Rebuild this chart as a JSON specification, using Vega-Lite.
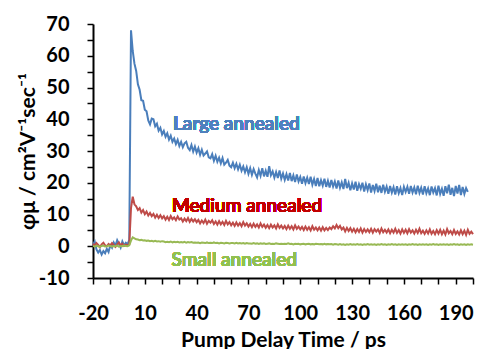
{
  "$schema": "https://vega.github.io/schema/vega-lite/v6.json",
  "autosize": "none",
  "width": 380,
  "height": 254,
  "padding": {"left": 93, "top": 24, "right": 6, "bottom": 71},
  "datasets": {
    "curves": [
      {"t":-20,"L":0.5,"M":0.8,"S":0.1},{"t":-19,"L":1.5,"M":0.2,"S":-0.1},{"t":-18,"L":-1.0,"M":1.0,"S":0.2},{"t":-17,"L":-2.0,"M":0.4,"S":0.0},{"t":-16,"L":-1.2,"M":-0.3,"S":-0.2},{"t":-15,"L":-2.6,"M":0.6,"S":0.1},{"t":-14,"L":-1.5,"M":1.1,"S":0.2},{"t":-13,"L":-2.2,"M":0.3,"S":-0.1},{"t":-12,"L":-0.8,"M":0.0,"S":0.0},{"t":-11,"L":-1.8,"M":0.7,"S":0.2},
      {"t":-10,"L":0.3,"M":0.2,"S":0.1},{"t":-9,"L":-0.5,"M":1.0,"S":-0.1},{"t":-8,"L":1.2,"M":0.4,"S":0.1},{"t":-7,"L":0.2,"M":-0.2,"S":0.0},{"t":-6,"L":1.9,"M":0.6,"S":0.2},{"t":-5,"L":0.8,"M":1.2,"S":-0.1},{"t":-4,"L":-0.4,"M":0.3,"S":0.1},{"t":-3,"L":1.5,"M":0.8,"S":0.0},{"t":-2,"L":0.3,"M":0.1,"S":0.2},{"t":-1,"L":1.1,"M":0.5,"S":0.1},
      {"t":0,"L":0.6,"M":0.3,"S":0.0},{"t":1,"L":2.0,"M":0.6,"S":0.3},{"t":2,"L":68.0,"M":12.0,"S":1.8},{"t":3,"L":61.5,"M":15.6,"S":2.8},{"t":4,"L":57.5,"M":13.2,"S":2.5},{"t":5,"L":55.2,"M":12.6,"S":2.2},{"t":6,"L":51.0,"M":11.4,"S":2.1},{"t":7,"L":49.3,"M":12.0,"S":1.9},{"t":8,"L":46.0,"M":10.6,"S":2.0},{"t":9,"L":45.8,"M":11.4,"S":1.8},
      {"t":10,"L":43.0,"M":10.1,"S":1.9},{"t":11,"L":42.5,"M":10.9,"S":1.7},{"t":12,"L":39.6,"M":9.7,"S":1.8},{"t":13,"L":38.4,"M":10.5,"S":1.6},{"t":14,"L":40.2,"M":9.5,"S":1.7},{"t":15,"L":40.0,"M":10.2,"S":1.5},{"t":16,"L":37.8,"M":9.0,"S":1.7},{"t":17,"L":38.6,"M":9.9,"S":1.5},{"t":18,"L":36.4,"M":8.9,"S":1.6},{"t":19,"L":37.3,"M":9.8,"S":1.4},
      {"t":20,"L":35.2,"M":8.8,"S":1.6},{"t":21,"L":36.3,"M":9.5,"S":1.5},{"t":22,"L":34.5,"M":8.4,"S":1.3},{"t":23,"L":35.6,"M":9.3,"S":1.4},{"t":24,"L":33.6,"M":8.3,"S":1.3},{"t":25,"L":34.8,"M":9.5,"S":1.5},{"t":26,"L":32.9,"M":8.5,"S":1.2},{"t":27,"L":33.9,"M":9.1,"S":1.4},{"t":28,"L":32.2,"M":8.2,"S":1.3},{"t":29,"L":33.5,"M":9.4,"S":1.4},
      {"t":30,"L":31.6,"M":8.4,"S":1.2},{"t":31,"L":32.9,"M":8.8,"S":1.3},{"t":32,"L":31.2,"M":7.8,"S":1.2},{"t":33,"L":32.4,"M":8.7,"S":1.4},{"t":34,"L":32.9,"M":7.9,"S":1.1},{"t":35,"L":31.0,"M":8.9,"S":1.3},{"t":36,"L":30.3,"M":7.7,"S":1.2},{"t":37,"L":31.9,"M":8.6,"S":1.3},{"t":38,"L":29.8,"M":7.8,"S":1.1},{"t":39,"L":31.4,"M":8.5,"S":1.2},
      {"t":40,"L":29.5,"M":7.6,"S":1.1},{"t":41,"L":30.9,"M":8.3,"S":1.2},{"t":42,"L":28.8,"M":7.2,"S":1.0},{"t":43,"L":30.4,"M":8.1,"S":1.2},{"t":44,"L":28.6,"M":7.3,"S":1.1},{"t":45,"L":29.2,"M":8.4,"S":1.0},{"t":46,"L":29.9,"M":7.1,"S":1.2},{"t":47,"L":28.0,"M":8.0,"S":1.0},{"t":48,"L":27.7,"M":7.4,"S":1.1},{"t":49,"L":29.0,"M":8.2,"S":1.0},
      {"t":50,"L":26.9,"M":7.0,"S":1.2},{"t":51,"L":28.5,"M":7.8,"S":1.0},{"t":52,"L":26.6,"M":6.8,"S":1.1},{"t":53,"L":27.9,"M":7.9,"S":0.9},{"t":54,"L":26.1,"M":6.9,"S":1.1},{"t":55,"L":27.8,"M":7.7,"S":1.0},{"t":56,"L":25.7,"M":6.7,"S":0.9},{"t":57,"L":26.3,"M":8.0,"S":1.1},{"t":58,"L":27.2,"M":6.9,"S":1.0},{"t":59,"L":25.4,"M":7.6,"S":0.9},
      {"t":60,"L":24.9,"M":6.6,"S":1.0},{"t":61,"L":26.3,"M":7.4,"S":1.0},{"t":62,"L":24.6,"M":6.4,"S":0.9},{"t":63,"L":26.0,"M":7.5,"S":1.1},{"t":64,"L":24.2,"M":6.5,"S":0.9},{"t":65,"L":25.7,"M":7.3,"S":1.0},{"t":66,"L":23.8,"M":6.3,"S":0.9},{"t":67,"L":25.1,"M":7.6,"S":1.0},{"t":68,"L":23.3,"M":6.5,"S":0.8},{"t":69,"L":24.9,"M":7.2,"S":1.0},
      {"t":70,"L":22.8,"M":6.2,"S":0.9},{"t":71,"L":24.6,"M":7.0,"S":0.9},{"t":72,"L":22.5,"M":6.0,"S":0.8},{"t":73,"L":24.3,"M":7.1,"S":1.0},{"t":74,"L":22.9,"M":6.1,"S":0.8},{"t":75,"L":21.7,"M":6.9,"S":0.9},{"t":76,"L":24.0,"M":5.9,"S":0.7},{"t":77,"L":22.2,"M":7.2,"S":0.9},{"t":78,"L":24.6,"M":6.1,"S":0.8},{"t":79,"L":22.0,"M":6.8,"S":0.9},
      {"t":80,"L":23.8,"M":5.8,"S":0.7},{"t":81,"L":21.9,"M":6.7,"S":0.8},{"t":82,"L":25.2,"M":5.7,"S":0.9},{"t":83,"L":22.4,"M":6.8,"S":0.7},{"t":84,"L":23.6,"M":5.9,"S":0.8},{"t":85,"L":21.6,"M":6.6,"S":0.7},{"t":86,"L":23.4,"M":5.6,"S":0.9},{"t":87,"L":21.5,"M":6.9,"S":0.8},{"t":88,"L":23.9,"M":5.8,"S":0.7},{"t":89,"L":21.3,"M":6.5,"S":0.8},
      {"t":90,"L":22.9,"M":5.6,"S":0.7},{"t":91,"L":20.9,"M":6.4,"S":0.8},{"t":92,"L":22.7,"M":5.4,"S":0.7},{"t":93,"L":20.7,"M":6.5,"S":0.9},{"t":94,"L":23.1,"M":5.5,"S":0.7},{"t":95,"L":20.5,"M":6.3,"S":0.8},{"t":96,"L":22.3,"M":5.3,"S":0.6},{"t":97,"L":20.2,"M":6.6,"S":0.8},{"t":98,"L":22.6,"M":5.5,"S":0.7},{"t":99,"L":20.4,"M":6.2,"S":0.8},
      {"t":100,"L":21.8,"M":5.3,"S":0.6},{"t":101,"L":19.7,"M":6.1,"S":0.7},{"t":102,"L":22.0,"M":5.1,"S":0.8},{"t":103,"L":19.9,"M":6.2,"S":0.6},{"t":104,"L":21.6,"M":5.2,"S":0.7},{"t":105,"L":19.6,"M":6.0,"S":0.8},{"t":106,"L":21.9,"M":5.0,"S":0.6},{"t":107,"L":19.4,"M":6.3,"S":0.7},{"t":108,"L":21.2,"M":5.2,"S":0.6},{"t":109,"L":19.0,"M":5.9,"S":0.8},
      {"t":110,"L":21.5,"M":5.0,"S":0.7},{"t":111,"L":18.9,"M":5.9,"S":0.6},{"t":112,"L":20.8,"M":4.9,"S":0.7},{"t":113,"L":19.1,"M":6.0,"S":0.6},{"t":114,"L":21.3,"M":5.0,"S":0.8},{"t":115,"L":18.7,"M":5.8,"S":0.6},{"t":116,"L":20.6,"M":5.1,"S":0.7},{"t":117,"L":18.5,"M":5.9,"S":0.6},{"t":118,"L":20.9,"M":5.4,"S":0.7},{"t":119,"L":18.8,"M":6.3,"S":0.5},
      {"t":120,"L":20.4,"M":5.6,"S":0.7},{"t":121,"L":18.2,"M":6.7,"S":0.6},{"t":122,"L":20.7,"M":5.7,"S":0.5},{"t":123,"L":18.4,"M":6.4,"S":0.7},{"t":124,"L":20.1,"M":5.3,"S":0.5},{"t":125,"L":18.0,"M":5.9,"S":0.6},{"t":126,"L":21.2,"M":4.7,"S":0.4},{"t":127,"L":18.3,"M":5.8,"S":0.6},{"t":128,"L":20.0,"M":4.8,"S":0.5},{"t":129,"L":17.6,"M":5.7,"S":0.7},
      {"t":130,"L":19.8,"M":4.6,"S":0.5},{"t":131,"L":17.9,"M":5.5,"S":0.6},{"t":132,"L":20.3,"M":4.4,"S":0.5},{"t":133,"L":17.5,"M":5.4,"S":0.7},{"t":134,"L":19.6,"M":4.5,"S":0.5},{"t":135,"L":18.1,"M":5.6,"S":0.6},{"t":136,"L":20.0,"M":4.3,"S":0.4},{"t":137,"L":17.2,"M":5.4,"S":0.6},{"t":138,"L":19.5,"M":4.5,"S":0.5},{"t":139,"L":17.7,"M":5.3,"S":0.7},
      {"t":140,"L":19.8,"M":4.4,"S":0.5},{"t":141,"L":16.9,"M":5.5,"S":0.6},{"t":142,"L":19.3,"M":4.3,"S":0.5},{"t":143,"L":17.4,"M":5.4,"S":0.6},{"t":144,"L":19.7,"M":4.6,"S":0.4},{"t":145,"L":17.0,"M":5.3,"S":0.6},{"t":146,"L":19.1,"M":4.2,"S":0.5},{"t":147,"L":16.8,"M":5.6,"S":0.7},{"t":148,"L":19.4,"M":4.4,"S":0.5},{"t":149,"L":17.2,"M":5.2,"S":0.6},
      {"t":150,"L":18.8,"M":4.3,"S":0.4},{"t":151,"L":16.5,"M":5.3,"S":0.6},{"t":152,"L":19.0,"M":4.1,"S":0.5},{"t":153,"L":16.9,"M":5.2,"S":0.7},{"t":154,"L":18.6,"M":4.3,"S":0.5},{"t":155,"L":16.3,"M":5.5,"S":0.6},{"t":156,"L":18.9,"M":4.2,"S":0.4},{"t":157,"L":16.7,"M":5.1,"S":0.6},{"t":158,"L":18.3,"M":4.0,"S":0.5},{"t":159,"L":16.1,"M":5.3,"S":0.6},
      {"t":160,"L":18.7,"M":4.2,"S":0.5},{"t":161,"L":17.1,"M":5.2,"S":0.6},{"t":162,"L":18.7,"M":4.1,"S":0.4},{"t":163,"L":16.5,"M":5.4,"S":0.6},{"t":164,"L":19.0,"M":4.3,"S":0.5},{"t":165,"L":16.9,"M":5.0,"S":0.7},{"t":166,"L":18.5,"M":4.0,"S":0.5},{"t":167,"L":16.4,"M":5.2,"S":0.6},{"t":168,"L":19.1,"M":4.2,"S":0.4},{"t":169,"L":16.8,"M":5.5,"S":0.6},
      {"t":170,"L":18.4,"M":4.1,"S":0.5},{"t":171,"L":16.3,"M":4.9,"S":0.6},{"t":172,"L":18.9,"M":3.9,"S":0.5},{"t":173,"L":16.7,"M":5.0,"S":0.6},{"t":174,"L":18.2,"M":4.0,"S":0.4},{"t":175,"L":16.1,"M":5.3,"S":0.6},{"t":176,"L":18.8,"M":3.9,"S":0.5},{"t":177,"L":16.9,"M":4.8,"S":0.7},{"t":178,"L":18.3,"M":3.8,"S":0.5},{"t":179,"L":16.0,"M":5.1,"S":0.6},
      {"t":180,"L":19.1,"M":4.0,"S":0.4},{"t":181,"L":16.5,"M":5.2,"S":0.6},{"t":182,"L":18.1,"M":3.8,"S":0.5},{"t":183,"L":15.9,"M":4.9,"S":0.6},{"t":184,"L":18.9,"M":3.7,"S":0.5},{"t":185,"L":16.7,"M":5.4,"S":0.6},{"t":186,"L":19.4,"M":4.1,"S":0.4},{"t":187,"L":16.2,"M":4.8,"S":0.6},{"t":188,"L":18.4,"M":3.8,"S":0.5},{"t":189,"L":15.8,"M":5.1,"S":0.7},
      {"t":190,"L":19.0,"M":3.9,"S":0.5},{"t":191,"L":16.6,"M":4.7,"S":0.6},{"t":192,"L":19.3,"M":3.7,"S":0.4},{"t":193,"L":16.1,"M":5.0,"S":0.6},{"t":194,"L":18.7,"M":3.8,"S":0.5},{"t":195,"L":16.5,"M":4.9,"S":0.6},{"t":196,"L":18.3,"M":3.6,"S":0.4},{"t":197,"L":17.1,"M":5.2,"S":0.6},{"t":198,"L":null,"M":3.9,"S":0.5},{"t":199,"L":null,"M":4.6,"S":0.6},
      {"t":200,"L":null,"M":3.8,"S":0.5}
    ]
  },
  "data": {"name": "curves"},
  "encoding": {
    "x": {
      "field": "t", "type": "quantitative",
      "scale": {"domain": [-20, 200], "nice": false, "zero": false},
      "axis": {
        "title": "Pump Delay Time / ps",
        "values": [-20,-10,0,10,20,30,40,50,60,70,80,90,100,110,120,130,140,150,160,170,180,190,200],
        "tickCount": 30,
        "labelExpr": "(datum.value + 20) % 30 == 0 && datum.value < 200 ? replace(datum.label, '\u2212', '-') : ''",
        "labelPadding": 19, "titlePadding": 6
      }
    }
  },
  "layer": [
    {"mark": {"type": "line", "color": "#4A7EBB", "strokeWidth": 2}, "encoding": {"y": {"field": "L", "type": "quantitative",
      "scale": {"domain": [-10, 70], "nice": false, "zero": false},
      "axis": {
        "title": "φμ / cm²V⁻¹sec⁻¹",
        "values": [-10,-5,0,5,10,15,20,25,30,35,40,45,50,55,60,65,70],
        "tickCount": 30,
        "labelExpr": "datum.value % 10 == 0 ? replace(datum.label, '\u2212', '-') : ''",
        "labelPadding": 18, "titleX": -65, "titleBaseline": "middle"
      }}}},
    {"mark": {"type": "line", "color": "#BE4B48", "strokeWidth": 2}, "encoding": {"y": {"field": "M", "type": "quantitative", "axis": {"tickCount": 30}}}},
    {"mark": {"type": "line", "color": "#98B954", "strokeWidth": 2}, "encoding": {"y": {"field": "S", "type": "quantitative", "axis": {"tickCount": 30}}}},
    {"mark": {"type": "rule", "color": "black", "strokeWidth": 2.5}, "encoding": {"y": {"datum": 0}}},
    {"mark": {"type": "text", "text": "Large annealed", "color": "#4F81BD", "font": "Lato", "fontSize": 19, "fontWeight": 600, "align": "center", "baseline": "alphabetic"},
     "encoding": {"x": {"datum": 63}, "y": {"datum": 36.5}}},
    {"mark": {"type": "text", "text": "Medium annealed", "color": "#C00000", "font": "Lato", "fontSize": 19, "fontWeight": 600, "align": "center", "baseline": "alphabetic"},
     "encoding": {"x": {"datum": 69.2}, "y": {"datum": 10.8}}},
    {"mark": {"type": "text", "text": "Small annealed", "color": "#92C050", "font": "Lato", "fontSize": 19, "fontWeight": 600, "align": "center", "baseline": "alphabetic"},
     "encoding": {"x": {"datum": 61.8}, "y": {"datum": -6.3}}}
  ],
  "config": {
    "view": {"stroke": null},
    "font": "Lato",
    "axis": {
      "grid": false,
      "labelOverlap": false, "labelFlush": false, "labelBound": false,
      "domainColor": "black", "domainWidth": 2,
      "tickColor": "black", "tickWidth": 1.5, "tickSize": 6,
      "labelFont": "Lato", "labelFontWeight": "bold", "labelFontSize": 20, "labelColor": "black",
      "titleFont": "Lato", "titleFontWeight": "bold", "titleFontSize": 21, "titleColor": "black"
    }
  }
}
